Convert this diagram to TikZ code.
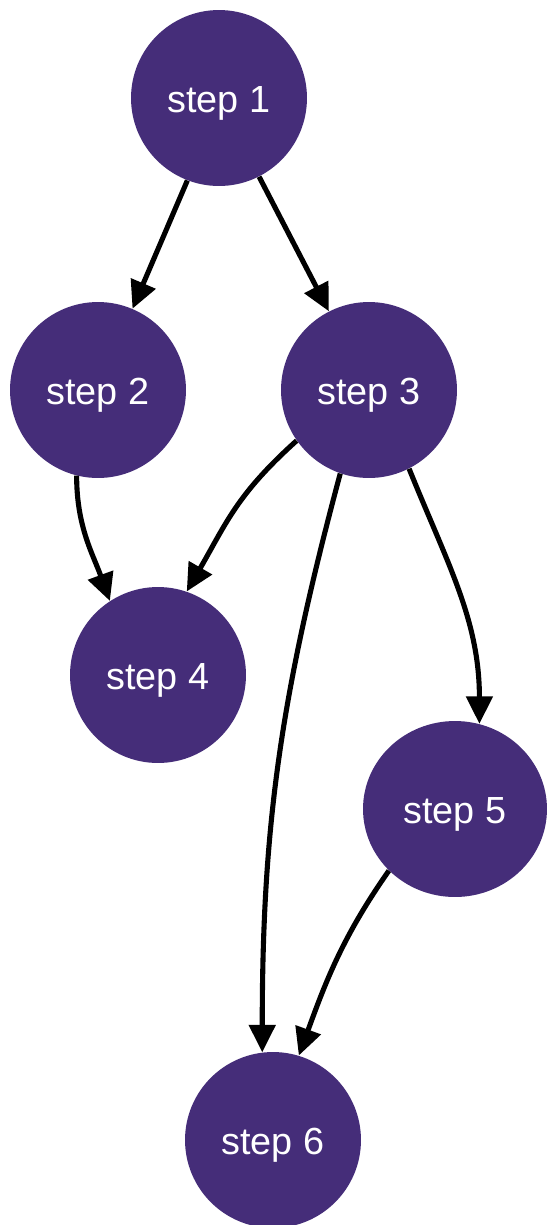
\documentclass[tikz,border=0pt]{standalone}
\usepackage{fontspec}
\setmainfont{Liberation Sans}
\usepackage{tikz}
\usetikzlibrary{positioning}
\usetikzlibrary{shapes.geometric,arrows.meta}
\definecolor{stepviolet}{RGB}{69,45,121}

\begin{document}
\begin{tikzpicture}[x=0.02cm, y=0.02cm,
    stepnode/.style={circle, fill=stepviolet, text=white, inner sep=0pt,
      minimum size=3.52cm, text height=17pt, text depth=0pt,
      font=\fontsize{21.5}{25}\selectfont},
    flow/.style={line width=2.9pt, -{Triangle[length=0.55cm, width=0.52cm]}}]
    \useasboundingbox (0,0) rectangle (548,-1225);

    \node(s1) [stepnode] at (219,-98) {step 1};
    \node(s2) [stepnode] at (98,-390) {step 2};
    \node(s3) [stepnode] at (369,-390) {step 3};
    \node(s4) [stepnode] at (158,-675) {step 4};
    \node(s5) [stepnode, ellipse, minimum width=3.68cm, minimum height=3.52cm] at (455,-809) {step 5};
    \node(s6) [stepnode] at (273,-1140) {step 6};

    \draw[flow](s1.249) -- (s2.67);
    \draw[flow](s1.297) -- (s3.117);
    \draw[flow](s2.256) to[out=270, in=110] (s4.123);
    \draw[flow](s3.215) to[out=222, in=60, looseness=1.1] (s4.71);
    \draw[flow](s3.251) to[out=255, in=90] (s6.97);
    \draw[flow](s3.297) to[out=292, in=90] (s5.74);
    \draw[flow](s5.223) to[out=235, in=70] (s6.73);
  \end{tikzpicture}
\end{document}
